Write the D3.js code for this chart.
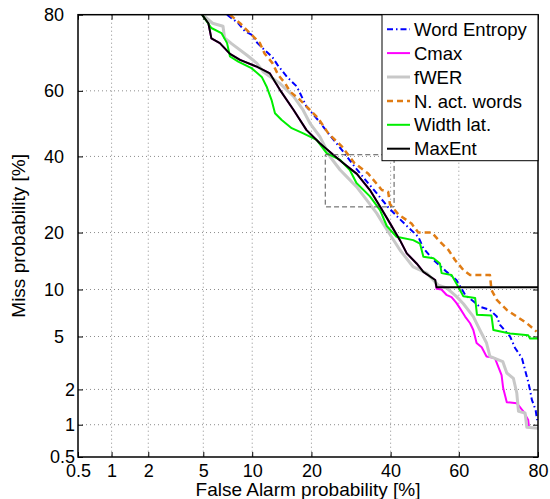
<!DOCTYPE html>
<html>
<head>
<meta charset="utf-8">
<script src="https://cdn.jsdelivr.net/npm/d3@7"></script>
<style>
body { margin: 0; background: #fff; }
svg { display: block; font-family: "Liberation Sans", Arial, sans-serif; }
</style>
</head>
<body>
<div id="chart"></div>
<script>
// tick values in percent (same on both axes)
const tickValues = [0.5, 1, 2, 5, 10, 20, 40, 60, 80];

// curves: [false alarm %, miss %]
const wordEntropy = [[7.1,80],[8.3,78.1],[9.1,76.2],[9.9,75.4],[10.7,73.3],[11.7,71.55],[12.9,69.6],[13.7,67.5],[15.3,64.1],[17.1,61.3],[19.0,55.2],[21.4,51.1],[23.7,47.0],[26.9,41.95],[30.1,37.0],[33.7,32.3],[36.1,29.5],[39.3,25.9],[42.2,23.4],[45.2,21.1],[48.1,19.1],[49.6,16.8],[52.6,14.6],[56.5,12.6],[59.3,11.35],[61.8,9.3],[64.1,8.5],[65.9,7.85],[68.6,7.5],[70.4,6.8],[71.2,6.0],[73.7,5.0],[74.9,4.15],[76.5,3.5],[77.2,2.85],[77.9,2.3],[78.3,1.98],[78.7,1.64],[79.5,1.35],[79.8,1.1]];

const cmax = [[4.9,80],[5.4,78.1],[5.65,74.5],[6.4,73.3],[7.4,70.5],[8.5,68.9],[10.6,67.0],[12.5,65.1],[14.1,60.3],[16.5,54.2],[19.0,48.0],[21.8,44.0],[24.9,40.4],[27.3,38.0],[30.7,34.9],[34.2,30.4],[37.0,26.1],[39.8,22.1],[42.7,18.4],[44.7,15.8],[47.6,14.0],[49.6,12.6],[53.1,11.35],[53.5,10.1],[54.95,10.0],[56.4,9.3],[57.9,9.0],[59.3,8.3],[60.3,7.7],[61.8,6.8],[63.2,6.15],[64.1,5.54],[65.0,4.5],[66.4,4.2],[67.7,3.6],[69.9,3.5],[70.8,3.0],[71.6,2.6],[72.0,2.05],[72.9,1.57],[75.3,1.54],[76.8,1.31],[77.9,1.10],[78.1,0.93]];

const fwer = [[4.95,80],[5.75,78.1],[6.7,77.4],[6.85,74.6],[7.6,73.1],[9.3,70.2],[10.6,68.0],[11.5,65.6],[14.1,62.2],[16.5,58.3],[18.3,54.2],[19.7,50.1],[21.8,46.0],[24.1,39.9],[26.5,36.0],[28.1,34.1],[30.6,31.3],[33.3,27.8],[36.1,24.4],[37.9,21.9],[42.7,16.45],[46.6,13.4],[50.6,12.4],[54.0,10.6],[56.5,10.2],[59.3,9.1],[61.3,8.2],[64.1,6.8],[65.9,5.54],[67.7,4.5],[68.6,3.6],[71.9,3.3],[72.9,2.7],[74.5,2.45],[75.3,1.87],[75.7,1.31],[77.2,1.27],[77.6,0.95],[80,0.93]];

const nActWords = [[7.4,80],[8.5,78.1],[9.7,75.8],[11.05,73.3],[11.7,70.6],[12.9,68.0],[13.8,64.7],[15.0,62.2],[15.85,59.8],[17.7,57.3],[19.7,54.2],[21.4,51.7],[23.7,47.0],[26.9,43.0],[30.1,38.0],[33.7,35.0],[37.5,30.4],[39.3,29.9],[39.8,26.7],[42.2,24.2],[46.1,22.0],[48.1,20.0],[52.1,20.0],[54.5,18.1],[57.0,16.45],[58.9,14.6],[61.3,12.9],[63.2,12.1],[68.6,12.1],[69.0,9.94],[70.4,8.65],[72.9,7.5],[75.3,6.8],[77.6,6.15],[79.7,5.4]];

const widthLat = [[4.9,80],[5.65,77.0],[6.55,75.8],[7.1,73.3],[7.4,69.8],[8.3,68.4],[9.9,66.6],[11.3,64.1],[12.0,61.3],[12.75,57.3],[13.3,53.2],[14.4,51.1],[16.15,48.6],[18.35,47.0],[21.1,45.0],[23.35,40.9],[26.5,38.95],[28.9,36.0],[30.6,32.3],[34.2,28.7],[37.0,25.2],[38.9,21.45],[41.7,19.1],[46.6,18.4],[48.6,17.7],[49.6,15.2],[52.6,14.9],[54.5,14.0],[55.0,12.4],[57.9,12.1],[59.8,10.4],[61.3,9.1],[64.6,8.9],[65.1,7.0],[69.0,6.9],[69.5,5.54],[73.7,5.25],[77.9,5.1],[78.3,4.85],[80,4.85]];

const maxEnt = [[4.9,80],[5.4,78.1],[5.65,74.5],[6.4,73.3],[7.4,70.5],[8.5,68.9],[10.6,67.0],[12.5,65.1],[14.1,60.3],[16.5,54.2],[19.0,48.0],[21.8,44.0],[24.9,40.4],[27.3,38.0],[30.7,34.9],[34.2,30.4],[37.0,26.1],[39.8,22.1],[42.7,18.4],[44.7,15.8],[47.6,14.0],[49.6,12.6],[53.1,11.35],[53.5,10.3],[80,10.3]];

// zoom box in percent: [faMin, faMax], [missMin, missMax]
const zoomFa = [23, 41];
const zoomMiss = [26, 40.5];

const seriesNames = ["Word Entropy", "Cmax", "fWER", "N. act. words", "Width lat.", "MaxEnt"];

// inverse normal cdf (Acklam)
function probit(p) {
    const a = [-3.969683028665376e+01, 2.209460984245205e+02, -2.759285104469687e+02, 1.383577518672690e+02, -3.066479806614716e+01, 2.506628277459239e+00];
    const b = [-5.447609879822406e+01, 1.615858368580409e+02, -1.556989798598866e+02, 6.680131188771972e+01, -1.328068155288572e+01];
    const c = [-7.784894002430293e-03, -3.223964580411365e-01, -2.400758277161838e+00, -2.549732539343734e+00, 4.374664141464968e+00, 2.938163982698783e+00];
    const d = [7.784695709041462e-03, 3.224671290700398e-01, 2.445134137142996e+00, 3.754408661907416e+00];
    const pl = 0.02425;
    let q, r;
    if (p < pl) {
        q = Math.sqrt(-2 * Math.log(p));
        return (((((c[0]*q+c[1])*q+c[2])*q+c[3])*q+c[4])*q+c[5]) / ((((d[0]*q+d[1])*q+d[2])*q+d[3])*q+1);
    }
    if (p > 1 - pl) {
        q = Math.sqrt(-2 * Math.log(1 - p));
        return -(((((c[0]*q+c[1])*q+c[2])*q+c[3])*q+c[4])*q+c[5]) / ((((d[0]*q+d[1])*q+d[2])*q+d[3])*q+1);
    }
    q = p - 0.5;
    r = q * q;
    return (((((a[0]*r+a[1])*r+a[2])*r+a[3])*r+a[4])*r+a[5])*q / (((((b[0]*r+b[1])*r+b[2])*r+b[3])*r+b[4])*r+1);
}

const W = 550, H = 499;
const margin = { left: 78, right: 12, top: 14.7, bottom: 42 };
const width = W - margin.left - margin.right;
const height = H - margin.top - margin.bottom;

const svg = d3.select('#chart')
    .append('svg')
    .attr('width', W)
    .attr('height', H);

const g = svg.append('g')
    .attr('transform', 'translate(' + margin.left + ',' + margin.top + ')');

const lo = probit(0.005), hi = probit(0.8);
const x = d3.scaleLinear().domain([lo, hi]).range([0, width]);
const y = d3.scaleLinear().domain([lo, hi]).range([height, 0]);
const px = v => x(probit(v / 100));
const py = v => y(probit(v / 100));
const tv = tickValues.map(t => probit(t / 100));
const fmt = (d, i) => String(tickValues[i]);

// grid
const inner = tickValues.filter(t => t > 0.5 && t < 80);
g.append('g').selectAll('line')
    .data(inner)
    .enter().append('line')
    .attr('x1', d => px(d)).attr('x2', d => px(d))
    .attr('y1', 0).attr('y2', height)
    .attr('stroke', '#8c8c8c').attr('stroke-width', 1)
    .attr('stroke-dasharray', '1,3');
g.append('g').selectAll('line')
    .data(inner)
    .enter().append('line')
    .attr('y1', d => py(d)).attr('y2', d => py(d))
    .attr('x1', 0).attr('x2', width)
    .attr('stroke', '#8c8c8c').attr('stroke-width', 1)
    .attr('stroke-dasharray', '1,3');

// axes
const xAxis = g.append('g')
    .attr('transform', 'translate(0,' + height + ')')
    .call(d3.axisBottom(x).tickValues(tv).tickFormat(fmt).tickSize(-5).tickPadding(7));
const yAxis = g.append('g')
    .call(d3.axisLeft(y).tickValues(tv).tickFormat(fmt).tickSize(-5).tickPadding(14));
g.append('g')
    .call(d3.axisTop(x).tickValues(tv).tickFormat('').tickSize(-5));
g.append('g')
    .attr('transform', 'translate(' + width + ',0)')
    .call(d3.axisRight(y).tickValues(tv).tickFormat('').tickSize(-5));

g.selectAll('.domain').remove();
g.selectAll('.tick line').attr('stroke', '#000');
g.selectAll('.tick text')
    .attr('font-size', 18)
    .attr('font-family', '"Liberation Sans", Arial, sans-serif')
    .attr('fill', '#000');
yAxis.selectAll('.tick text')
    .attr('x', (d, i) => tickValues[i] < 5 ? -3 : -14);

// curves
const series = [
    { name: seriesNames[0], data: wordEntropy, color: '#0000ff', width: 2, dash: '6,3,1.5,3' },
    { name: seriesNames[1], data: cmax, color: '#ff00ff', width: 2, dash: null },
    { name: seriesNames[2], data: fwer, color: '#c8c8c8', width: 3, dash: null },
    { name: seriesNames[3], data: nActWords, color: '#e07c14', width: 2.5, dash: '6,4' },
    { name: seriesNames[4], data: widthLat, color: '#00ee00', width: 2, dash: null },
    { name: seriesNames[5], data: maxEnt, color: '#000000', width: 2, dash: null }
];

g.append('clipPath').attr('id', 'clip')
    .append('rect').attr('width', width).attr('height', height);

const line = d3.line().x(d => px(d[0])).y(d => py(d[1]));

g.append('g').attr('clip-path', 'url(#clip)')
    .selectAll('path')
    .data(series)
    .enter().append('path')
    .attr('d', d => line(d.data))
    .attr('fill', 'none')
    .attr('stroke', d => d.color)
    .attr('stroke-width', d => d.width)
    .attr('stroke-dasharray', d => d.dash)
    .attr('stroke-linejoin', 'round');

// zoom box
g.append('rect')
    .attr('x', px(zoomFa[0]))
    .attr('y', py(zoomMiss[1]))
    .attr('width', px(zoomFa[1]) - px(zoomFa[0]))
    .attr('height', py(zoomMiss[0]) - py(zoomMiss[1]))
    .attr('fill', 'none')
    .attr('stroke', '#555')
    .attr('stroke-width', 1)
    .attr('stroke-dasharray', '5,3');

// frame
g.append('rect')
    .attr('width', width).attr('height', height)
    .attr('fill', 'none').attr('stroke', '#000').attr('stroke-width', 1.5);

// legend
const lg = g.append('g').attr('transform', 'translate(' + (width - 156) + ',0)');
lg.append('rect')
    .attr('width', 156).attr('height', 146)
    .attr('fill', '#fff').attr('stroke', '#000').attr('stroke-width', 1);
const items = lg.selectAll('.item')
    .data(series)
    .enter().append('g')
    .attr('transform', (d, i) => 'translate(0,' + (14.5 + i * 23.9) + ')');
items.append('line')
    .attr('x1', 5).attr('x2', 28)
    .attr('stroke', d => d.color)
    .attr('stroke-width', d => d.width)
    .attr('stroke-dasharray', d => d.dash);
items.append('text')
    .attr('x', 32).attr('dy', '0.36em')
    .attr('font-size', 18.5)
    .text(d => d.name);

// axis titles
svg.append('text')
    .attr('x', margin.left + width / 2)
    .attr('y', 496)
    .attr('text-anchor', 'middle')
    .attr('font-size', 19)
    .text('False Alarm probability [%]');
svg.append('text')
    .attr('transform', 'translate(25,' + (margin.top + height / 2) + ') rotate(-90)')
    .attr('text-anchor', 'middle')
    .attr('font-size', 19)
    .text('Miss probability [%]');
</script>
</body>
</html>
